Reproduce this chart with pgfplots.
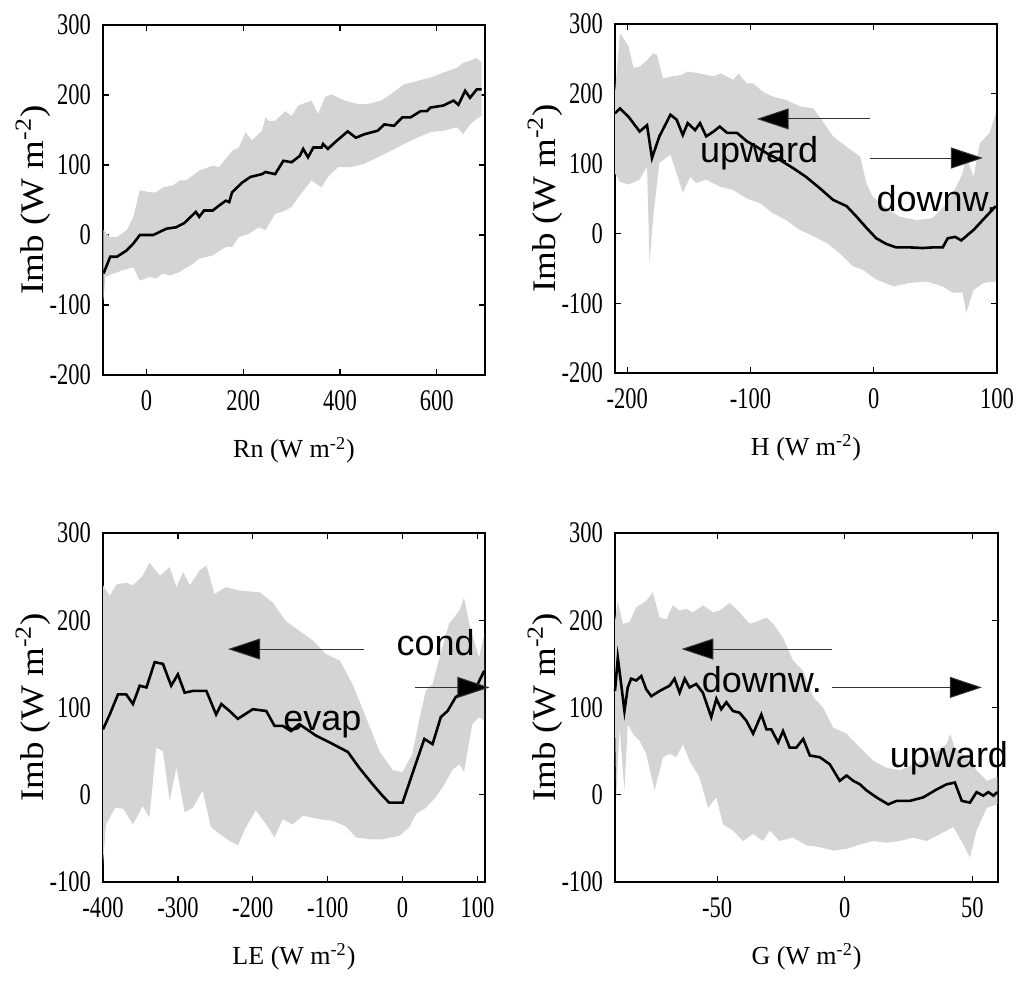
\documentclass[border=0pt]{standalone}
\usepackage{fontspec}
\setmainfont{Liberation Serif}
\newfontfamily\tickfont{Liberation Serif}[FakeStretch=0.75]
\newfontfamily\ylabfont{Liberation Serif}[FakeStretch=1.12]
\newfontfamily\annfont{Liberation Sans}
\usepackage{pgfplots}
\pgfplotsset{compat=1.18}
\usepgfplotslibrary{fillbetween}
\usetikzlibrary{arrows.meta}
\definecolor{band}{RGB}{212,212,212}
\pgfplotsset{
  panel/.style={
    scale only axis, width=191pt, height=175pt, anchor=south west,
    clip=false, axis line style={line width=0.8pt}, tick style={black, line width=0.6pt},
    major tick length=3pt, tick align=inside, tick pos=both,
    /pgf/number format/assume math mode=true,
    tick label style={font=\tickfont\fontsize{15}{16}\selectfont},
    xticklabel style={yshift=-4pt},
    yticklabel style={xshift=-2.5pt},
    xlabel style={at={(axis description cs:0.5,-0.215)}, anchor=center, font=\fontsize{13}{14}\selectfont},
    ylabel style={at={(axis description cs:-0.183,0.5)}, anchor=center, font=\ylabfont\fontsize{16.5}{17}\selectfont},
    ylabel={Imb (W m\textsuperscript{-2})},
  },
  meanline/.style={black, line width=1.3pt},
}
\tikzset{
  ann/.style={font=\annfont\fontsize{18}{18}\selectfont, anchor=base, inner sep=0pt},
  arr/.style={line width=0.5pt, draw=black!80, -{Triangle[length=16pt,width=10.5pt,fill=black]}},
}
\begin{document}
\begin{tikzpicture}
% ---------------- Panel 1: Rn
\begin{axis}[panel, at={(51.5pt,-187.5pt)}, xmin=-90, xmax=700, ymin=-200, ymax=300,
  xtick={0,200,400,600}, ytick={-200,-100,0,100,200,300},
  xlabel={Rn (W m\textsuperscript{-2})}]
\addplot[name path=U, draw=none] coordinates {
(-89,7) (-75,-3) (-61,-3) (-41,7) (-27,26) (-14,64) (7,61) (20,61) (34,68) (55,71) (68,78) (82,78)
(109,92) (137,99) (150,97) (177,120) (191,125) (205,147) (218,135) (239,149) (246,168) (253,163)
(266,163) (287,177) (300,170) (314,185) (341,192) (355,173) (369,197) (382,201) (410,192) (437,187)
(457,187) (485,192) (505,201) (532,215) (560,220) (587,225) (614,232) (642,239) (655,246) (669,249)
(683,253) (693,246)};
\addplot[name path=L, draw=none] coordinates {
(-89,-93) (-85,-60) (-68,-55) (-48,-50) (-27,-46) (-14,-65) (7,-60) (20,-62) (34,-55) (48,-58)
(68,-53) (96,-41) (109,-34) (137,-29) (164,-17) (177,-17) (191,-3) (212,2) (232,11) (246,7) (266,30)
(287,35) (300,40) (314,54) (341,78) (362,68) (375,83) (396,97) (423,97) (451,102) (478,111) (505,120)
(532,130) (560,139) (587,147) (614,149) (642,154) (655,144) (669,158) (683,166) (693,170)};
\addplot[band, draw=none] fill between[of=U and L];
\addplot[meanline] coordinates {
(-89,-55) (-75,-31) (-61,-31) (-41,-22) (-27,-12) (-14,0) (14,0) (41,9) (61,11) (78,17) (102,33)
(109,26) (119,35) (137,35) (150,42) (164,49) (171,47) (177,61) (198,75) (215,83) (239,87) (246,90)
(266,87) (283,106) (300,104) (317,113) (324,123) (334,111) (345,125) (362,125) (365,130) (375,123)
(389,132) (416,148) (433,139) (451,144) (478,149) (492,158) (512,156) (529,168) (546,168) (567,177)
(580,177) (587,182) (614,185) (635,192) (645,186) (659,206) (669,196) (683,208) (693,208)};
\end{axis}
% ---------------- Panel 2: H
\begin{axis}[panel, at={(307.5pt,-186.5pt)}, height=174.5pt, xmin=-210, xmax=100, ymin=-200, ymax=300,
  xtick={-200,-100,0,100}, ytick={-200,-100,0,100,200,300},
  xlabel={H (W m\textsuperscript{-2})}]
\addplot[name path=U, draw=none] coordinates {
(-210,201) (-206,287) (-199,268) (-195,237) (-190,239) (-184,248) (-179,258) (-176,256) (-171,222)
(-164,225) (-156,227) (-151,232) (-141,229) (-130,225) (-124,229) (-114,220) (-110,229) (-103,215)
(-98,215) (-90,203) (-82,196) (-71,191) (-60,182) (-49,179) (-44,167) (-33,139) (-22,124) (-11,110)
(-6,72) (-1,53) (8,39) (21,24) (35,19) (48,22) (59,43) (67,67) (72,86) (75,110) (81,81) (86,129)
(94,144) (99,172)};
\addplot[name path=L, draw=none] coordinates {
(-210,86) (-206,74) (-199,70) (-190,77) (-184,96) (-182,-43) (-179,24) (-174,101) (-165,113)
(-160,86) (-155,58) (-149,81) (-144,72) (-136,77) (-125,67) (-114,62) (-103,50) (-92,43) (-82,29)
(-71,19) (-60,5) (-49,-4) (-38,-14) (-28,-28) (-17,-47) (-9,-52) (2,-66) (16,-76) (29,-71) (43,-69)
(56,-76) (64,-85) (72,-85) (75,-114) (81,-81) (89,-71) (99,-69)};
\addplot[band, draw=none] fill between[of=U and L];
\addplot[meanline] coordinates {
(-210,172) (-206,179) (-199,167) (-190,146) (-184,155) (-180,108) (-174,139) (-165,170) (-160,163)
(-155,141) (-151,158) (-145,148) (-141,158) (-136,139) (-130,146) (-125,153) (-119,144) (-111,144)
(-103,132) (-95,124) (-87,115) (-76,105) (-65,93) (-55,81) (-44,65) (-33,48) (-22,39) (-14,24)
(-6,8) (2,-7) (10,-15) (18,-20) (29,-20) (40,-21) (48,-20) (56,-20) (60,-7) (66,-5) (71,-10)
(81,5) (91,24) (99,39)};
\draw[arr] (axis cs:-3,164) -- (axis cs:-95,164);
\draw[arr] (axis cs:-3,108) -- (axis cs:88.6,108);
\node[ann] at (axis cs:-93,101) {upward};
\node[ann] at (axis cs:51,31) {downw.};
\end{axis}
% ---------------- Panel 3: LE
\begin{axis}[panel, at={(51.5pt,-441pt)}, height=174.5pt, xmin=-400, xmax=110, ymin=-100, ymax=300,
  xtick={-400,-300,-200,-100,0,100}, ytick={-100,0,100,200,300},
  xlabel={LE (W m\textsuperscript{-2})}]
\addplot[name path=U, draw=none] coordinates {
(-400,240) (-391,228) (-382,241) (-369,243) (-360,240) (-347,251) (-338,266) (-324,251) (-311,261)
(-302,238) (-293,255) (-284,240) (-271,257) (-262,263) (-251,230) (-236,238) (-218,234) (-191,232)
(-173,220) (-156,199) (-138,188) (-120,177) (-102,161) (-84,154) (-67,127) (-49,89) (-31,50)
(-13,28) (0,26) (13,47) (22,85) (31,119) (40,127) (49,156) (62,196) (76,211) (82,226) (89,196)
(102,157) (109,184)};
\addplot[name path=L, draw=none] coordinates {
(-400,-80) (-396,-34) (-384,-15) (-373,-16) (-360,-34) (-347,-13) (-338,-26) (-329,54) (-320,50)
(-311,-7) (-302,31) (-291,-20) (-280,-15) (-267,5) (-256,-37) (-244,-45) (-231,-53) (-220,-58)
(-209,-37) (-196,-18) (-182,-34) (-171,-49) (-160,-28) (-147,-34) (-133,-24) (-111,-28) (-93,-30)
(-76,-36) (-62,-49) (-44,-51) (-27,-51) (-4,-47) (9,-37) (18,-22) (31,-15) (44,-3) (53,8) (67,29)
(76,35) (82,26) (93,81) (102,89) (109,85)};
\addplot[band, draw=none] fill between[of=U and L];
\addplot[meanline] coordinates {
(-400,75) (-391,92) (-380,115) (-369,115) (-360,104) (-351,125) (-342,123) (-331,152) (-320,150)
(-309,125) (-300,138) (-291,117) (-280,119) (-262,119) (-249,92) (-242,104) (-231,96) (-220,87)
(-200,98) (-182,96) (-171,79) (-160,79) (-149,73) (-138,81) (-116,68) (-93,58) (-73,49) (-58,31)
(-40,12) (-27,-1) (-18,-9) (0,-9) (13,24) (29,64) (40,58) (51,89) (60,96) (71,112) (84,119)
(98,123) (109,142)};
\draw[arr] (axis cs:-51,167) -- (axis cs:-233,167);
\draw[arr] (axis cs:17,123) -- (axis cs:116,123);
\node[ann] at (axis cs:44,160) {cond};
\node[ann] at (axis cs:-107,74) {evap};
\end{axis}
% ---------------- Panel 4: G
\begin{axis}[panel, at={(307.5pt,-441pt)}, height=174.5pt, width=191.5pt, xmin=-90, xmax=60, ymin=-100, ymax=300,
  xtick={-50,0,50}, ytick={-100,0,100,200,300},
  xlabel={G (W m\textsuperscript{-2})}]
\addplot[name path=U, draw=none] coordinates {
(-90,199) (-88.9,222) (-86.9,196) (-84.3,198) (-81.7,215) (-77.8,222) (-75.2,232) (-72.5,203)
(-69.9,201) (-67.3,217) (-64.7,211) (-62.1,213) (-59.5,209) (-55.6,217) (-51.6,209) (-49,211)
(-45.1,220) (-41.2,209) (-37.3,196) (-34,199) (-30.7,203) (-28.1,196) (-24.2,180) (-20.3,154)
(-16.3,142) (-12.4,112) (-8.5,100) (-4.6,77) (0.7,70) (5.9,54) (11.1,39) (16.3,31) (21.6,28)
(26.8,35) (30.7,39) (35.9,50) (39.9,58) (41.2,70) (43.1,54) (47.7,43) (51.6,28) (55.6,16) (59.7,20)};
\addplot[name path=L, draw=none] coordinates {
(-90,81) (-89.5,-3) (-88.2,77) (-86.3,5) (-85,81) (-83,70) (-80.4,62) (-77.8,47) (-74.5,5)
(-71.2,43) (-68.6,47) (-66,43) (-63.4,58) (-60.8,39) (-56.9,20) (-53.6,-15) (-50.3,-3) (-47.7,-34)
(-43.8,-41) (-39.9,-53) (-35.9,-45) (-32,-53) (-29.4,-41) (-25.5,-53) (-20.3,-49) (-15,-58)
(-9.8,-60) (-4.6,-64) (0.7,-62) (5.9,-57) (11.1,-53) (16.3,-55) (21.6,-53) (26.8,-49) (32,-53)
(37.3,-45) (42.5,-37) (46.4,-57) (49,-72) (51.6,-41) (55.6,-15) (59.7,-11)};
\addplot[band, draw=none] fill between[of=U and L];
\addplot[meanline] coordinates {
(-90,119) (-88.9,157) (-87.6,127) (-86.3,96) (-85,123) (-83.7,133) (-81.7,131) (-79.7,136)
(-77.8,121) (-75.8,113) (-72.5,119) (-68.6,125) (-66.7,133) (-64.7,117) (-62.7,133) (-60.8,123)
(-58.2,127) (-55.6,117) (-52.3,89) (-50.3,110) (-48.4,98) (-46.4,106) (-43.8,96) (-41.2,94)
(-38.6,85) (-35.9,70) (-32.7,92) (-30.7,75) (-28.8,75) (-26.1,60) (-24.2,73) (-21.6,54) (-19,54)
(-16.3,64) (-13.7,45) (-9.8,43) (-5.9,35) (-2,16) (0.7,22) (3.3,16) (5.9,12) (8.5,5) (12.4,-3)
(17,-11) (20.3,-7) (25.5,-7) (30.7,-3) (35.9,6) (39.9,12) (43.1,14) (45.8,-7) (49,-9) (51.6,3)
(54.2,-1) (56.2,3) (58.2,-1) (59.7,3)};
\draw[arr] (axis cs:-5,167) -- (axis cs:-64,167);
\draw[arr] (axis cs:-5,123) -- (axis cs:53.7,123);
\node[ann] at (axis cs:-32.5,117) {downw.};
\node[ann] at (axis cs:40.8,31) {upward};
\end{axis}
\pgfresetboundingbox
\useasboundingbox (0,0) rectangle (508.5pt,-492pt);
\end{tikzpicture}
\end{document}
